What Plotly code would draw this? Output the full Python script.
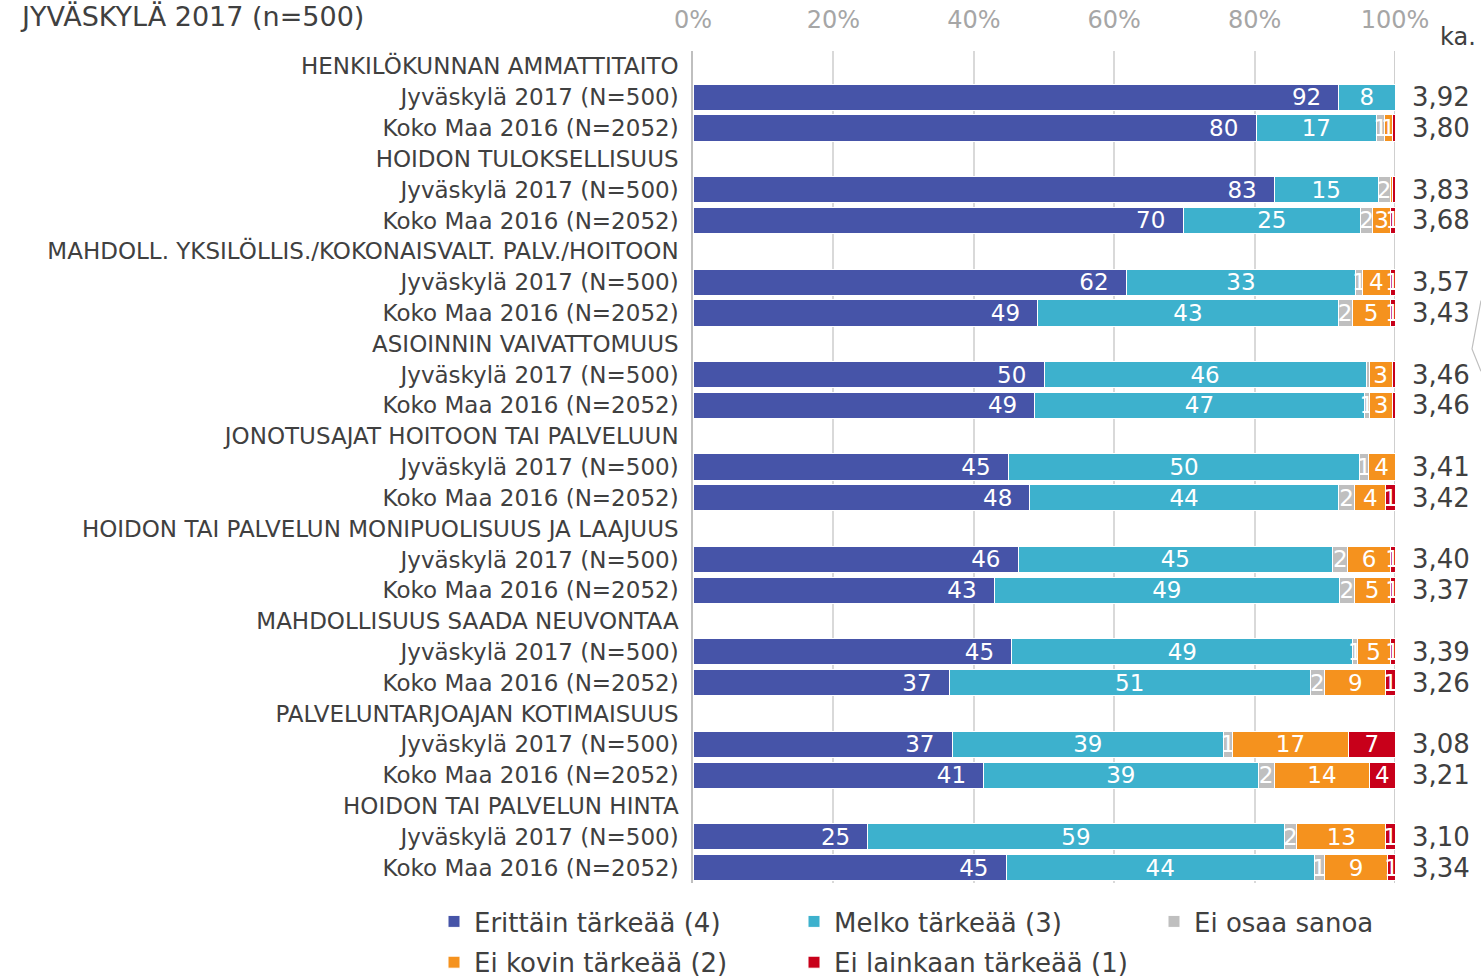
import plotly.graph_objects as go

title_text = "JYVÄSKYLÄ 2017 (n=500)"
groups = [
    "HENKILÖKUNNAN AMMATTITAITO",
    "HOIDON TULOKSELLISUUS",
    "MAHDOLL. YKSILÖLLIS./KOKONAISVALT. PALV./HOITOON",
    "ASIOINNIN VAIVATTOMUUS",
    "JONOTUSAJAT HOITOON TAI PALVELUUN",
    "HOIDON TAI PALVELUN MONIPUOLISUUS JA LAAJUUS",
    "MAHDOLLISUUS SAADA NEUVONTAA",
    "PALVELUNTARJOAJAN KOTIMAISUUS",
    "HOIDON TAI PALVELUN HINTA",
]
subgroups = ["Jyväskylä 2017 (N=500)", "Koko Maa 2016 (N=2052)"]
series_names = ["Erittäin tärkeää (4)", "Melko tärkeää (3)", "Ei osaa sanoa",
                "Ei kovin tärkeää (2)", "Ei lainkaan tärkeää (1)"]
colors = ["#4654a8", "#3db1cd", "#bfbfbf", "#f5921e", "#c8001a"]

# one value per data row (Jyväskylä, Koko Maa for each group)
erittain = [92.0, 80.2, 82.8, 69.8, 61.7, 49.1, 50.0, 48.7, 44.9, 48.0, 46.3, 42.9, 45.4, 36.5, 36.9, 41.4, 24.9, 44.6]
melko = [8.0, 17.2, 14.8, 25.3, 32.7, 42.8, 45.9, 46.9, 50.1, 43.9, 44.8, 49.2, 48.6, 51.4, 38.7, 39.1, 59.3, 43.9]
eos = [0.0, 1.1, 1.7, 1.7, 1.0, 2.0, 0.4, 0.8, 1.2, 2.4, 2.2, 2.1, 0.6, 2.1, 1.2, 2.3, 1.8, 1.4]
kovin = [0.0, 1.1, 0.4, 2.6, 3.9, 5.4, 3.3, 3.2, 3.8, 4.4, 6.0, 5.1, 4.7, 8.7, 16.6, 13.6, 12.7, 9.1]
lainkaan = [0.0, 0.4, 0.3, 0.6, 0.7, 0.7, 0.4, 0.4, 0.0, 1.3, 0.7, 0.7, 0.7, 1.3, 6.6, 3.6, 1.3, 1.0]
averages = ["3,92", "3,80", "3,83", "3,68", "3,57", "3,43", "3,46", "3,46", "3,41",
            "3,42", "3,40", "3,37", "3,39", "3,26", "3,08", "3,21", "3,10", "3,34"]
x_ticks = [0, 20, 40, 60, 80, 100]

FONT = "DejaVu Sans"
TXT = "#404040"
NBSP = "\u00a0"

# build row positions
tick_vals, tick_text, data_pos = [], [], []
pos = 0
for g in groups:
    tick_vals.append(pos); tick_text.append(g); pos += 1
    for s in subgroups:
        tick_vals.append(pos); tick_text.append(s); data_pos.append(pos); pos += 1
n_rows = pos

def lab(v):
    r = int(v + 0.5)
    return str(r) if r >= 1 else ""

legend_ids = ["legend", "legend2", "legend3", "legend", "legend2"]
anchors = ["end", "middle", "middle", "middle", "middle"]
pads = [NBSP * 2, "", "", "", ""]

fig = go.Figure()
for i, (name, vals, col) in enumerate(zip(series_names, [erittain, melko, eos, kovin, lainkaan], colors)):
    fig.add_trace(go.Bar(
        name=name, orientation="h", x=vals, y=data_pos,
        marker=dict(color=col, line=dict(color="white", width=1)),
        width=0.85,
        text=[lab(v) + (pads[i] if lab(v) else "") for v in vals],
        textposition="inside", insidetextanchor=anchors[i],
        textangle=0, constraintext="none",
        textfont=dict(color="white", size=23, family=FONT),
        hoverinfo="skip", legend=legend_ids[i], legendgroup=name,
    ))

for p, a in zip(data_pos, averages):
    fig.add_annotation(x=1.0655, xref="paper", y=p, yref="y", text=a, showarrow=False,
                       xanchor="center", yanchor="middle",
                       font=dict(size=26, color=TXT, family=FONT))
fig.add_annotation(x=1.0897, xref="paper", y=1.0163, yref="paper", text="ka.", showarrow=False,
                   xanchor="center", yanchor="middle", font=dict(size=24, color=TXT, family=FONT))

# right border line at 100%
fig.add_shape(type="line", xref="x", yref="paper", x0=100, x1=100, y0=0, y1=1,
              line=dict(color="#bfbfbf", width=1.5), layer="below")
# small callout mark at right edge
fig.add_shape(type="path", xref="paper", yref="paper",
              path="M 1.1225 0.70 L 1.1097 0.642 L 1.1225 0.615",
              line=dict(color="#bfbfbf", width=1.2))

leg_common = dict(orientation="v", xanchor="left", xref="container", yref="container",
                  y=1 - 898 / 979, yanchor="top", traceorder="grouped", tracegroupgap=4,
                  font=dict(size=26, color=TXT, family=FONT), bgcolor="rgba(0,0,0,0)",
                  itemclick=False, itemdoubleclick=False)

fig.update_layout(
    width=1481, height=979,
    margin=dict(l=693, r=86, t=51, b=96, autoexpand=False),
    paper_bgcolor="white", plot_bgcolor="white",
    barmode="stack", bargap=0.15,
    font=dict(family=FONT, color=TXT),
    uniformtext=dict(minsize=23, mode="show"),
    title=dict(text=title_text, x=22 / 1481, xanchor="left", xref="container",
               y=1 - 17 / 979, yanchor="middle", yref="container",
               font=dict(size=27, color=TXT, family=FONT)),
    xaxis=dict(range=[0, 100], side="top", tickvals=x_ticks,
               ticktext=[f"{t}%" for t in x_ticks], automargin=False,
               showgrid=True, gridcolor="#d9d9d9", gridwidth=1.5, zeroline=False,
               ticks="outside", ticklen=12, tickcolor="rgba(0,0,0,0)",
               tickfont=dict(size=24, color="#a6a6a6", family=FONT), fixedrange=True),
    yaxis=dict(range=[n_rows - 0.5, -0.5], tickvals=tick_vals, ticktext=tick_text,
               automargin=False,
               showgrid=False, zeroline=False, showline=True, linecolor="#bfbfbf", linewidth=1.5,
               ticks="outside", ticklen=8, tickcolor="rgba(0,0,0,0)",
               tickfont=dict(size=23, color=TXT, family=FONT), fixedrange=True),
    legend=dict(x=434 / 1481, **leg_common),
    legend2=dict(x=794 / 1481, **leg_common),
    legend3=dict(x=1154 / 1481, **leg_common),
    showlegend=True,
)

fig.write_html("out.html", config={"displayModeBar": False},
               post_script="document.body.style.margin='0px';")
